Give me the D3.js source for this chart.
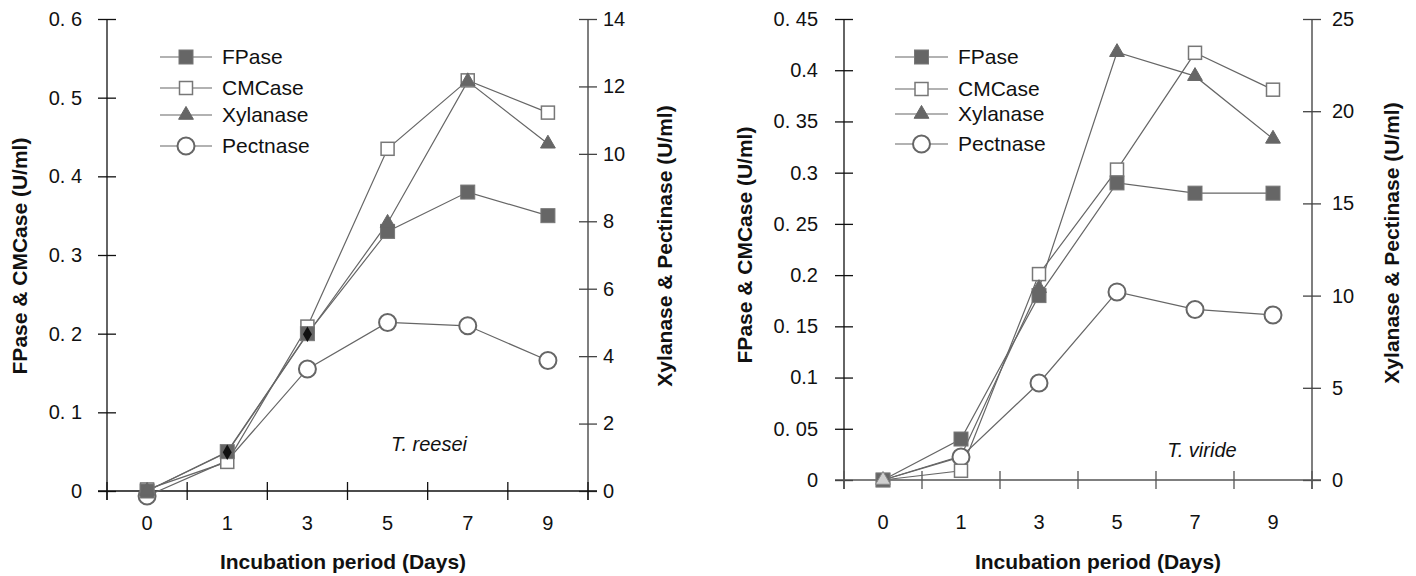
<!DOCTYPE html>
<html>
<head>
<meta charset="utf-8">
<script src="https://cdn.jsdelivr.net/npm/d3@7"></script>
<style>
  html, body { margin: 0; padding: 0; background: #fff; }
  svg { display: block; font-family: "Liberation Sans", Arial, Helvetica, sans-serif; }
</style>
</head>
<body>
<svg id="chart" width="1416" height="576"></svg>
<script>
// Incubation days (categories on the x axis)
const days = ["0", "1", "3", "5", "7", "9"];
const seriesNames = ["FPase", "CMCase", "Xylanase", "Pectnase"];

// T. reesei — FPase & CMCase on the left axis, Xylanase & Pectinase on the right axis (U/ml)
const reeseiFPase     = [0, 0.05, 0.20, 0.33, 0.38, 0.35];
const reeseiCMCase    = [0.002, 0.037, 0.209, 0.435, 0.522, 0.481];
const reeseiXylanase  = [0, 1.15, 4.65, 7.95, 12.15, 10.3];
const reeseiPectinase = [-0.15, 0.9, 3.62, 5.0, 4.9, 3.87];

// T. viride
const virideFPase     = [0, 0.040, 0.18, 0.29, 0.28, 0.28];
const virideCMCase    = [0, 0.009, 0.201, 0.303, 0.417, 0.381];
const virideXylanase  = [0, 1.3, 10.4, 23.2, 21.9, 18.5];
const viridePectinase = [0, 1.25, 5.26, 10.2, 9.25, 8.95];

// Axis tick values and their printed labels
const reeseiLeftTicks   = [0, 0.1, 0.2, 0.3, 0.4, 0.5, 0.6];
const reeseiLeftLabels  = ["0", "0. 1", "0. 2", "0. 3", "0. 4", "0. 5", "0. 6"];
const reeseiRightTicks  = [0, 2, 4, 6, 8, 10, 12, 14];
const virideLeftTicks   = [0, 0.05, 0.1, 0.15, 0.2, 0.25, 0.3, 0.35, 0.4, 0.45];
const virideLeftLabels  = ["0", "0. 05", "0.1", "0. 15", "0.2", "0. 25", "0.3", "0. 35", "0.4", "0. 45"];
const virideRightTicks  = [0, 5, 10, 15, 20, 25];

const svg = d3.select("#chart");
svg.append("rect").attr("width", 1416).attr("height", 576).attr("fill", "#fff");

const LINE = "#666";
const MARK = "#666";

function drawMarker(g, type, x, y) {
  if (!type) return;
  if (type === "sqFill") {
    g.append("rect").attr("x", x - 7).attr("y", y - 7).attr("width", 14).attr("height", 14)
      .attr("fill", MARK).attr("stroke", "#777").attr("stroke-width", 1);
  } else if (type === "sqOpen") {
    g.append("rect").attr("x", x - 6.5).attr("y", y - 6.5).attr("width", 13).attr("height", 13)
      .attr("fill", "#fff").attr("stroke", "#777").attr("stroke-width", 1.5);
  } else if (type === "tri" || type === "triLight") {
    g.append("path").attr("d", d3.symbol(d3.symbolTriangle, 95)())
      .attr("transform", `translate(${x},${y})`)
      .attr("fill", type === "tri" ? MARK : "#d0d0d0")
      .attr("stroke", type === "tri" ? MARK : "#888").attr("stroke-width", 1);
  } else if (type === "circle") {
    g.append("circle").attr("cx", x).attr("cy", y).attr("r", 8.5)
      .attr("fill", "#fff").attr("stroke", "#666").attr("stroke-width", 2);
  } else if (type === "diamond") {
    g.append("path").attr("d", d3.symbol(d3.symbolDiamond, 70)())
      .attr("transform", `translate(${x},${y})`)
      .attr("fill", "#111");
  }
}

function drawPanel(cfg) {
  const g = svg.append("g");
  const x = d3.scaleBand().domain(days).range([cfg.left, cfg.right]).padding(0);
  const yL = d3.scaleLinear().domain([0, cfg.leftMax]).range([cfg.bottom, cfg.top]);
  const yR = d3.scaleLinear().domain([0, cfg.rightMax]).range([cfg.bottom, cfg.top]);
  const cx = d => x(d) + x.bandwidth() / 2;

  // left axis
  const axL = g.append("g").attr("transform", `translate(${cfg.left},0)`)
    .call(d3.axisLeft(yL).tickValues(cfg.leftTicks)
      .tickFormat((d, i) => cfg.leftLabels[i]).tickSizeOuter(0).tickPadding(0));
  axL.select(".domain").attr("d", `M0,${cfg.top}V${cfg.bottom + 9}`).attr("stroke", "#111").attr("stroke-width", 1.3);
  axL.selectAll(".tick line").attr("x1", -9).attr("x2", 9).attr("stroke", "#111").attr("stroke-width", 1.3);
  axL.selectAll(".tick text").attr("x", cfg.leftLabelX - cfg.left).attr("font-size", 20)
    .attr("fill", "#111").attr("font-family", null);

  // right axis
  const axR = g.append("g").attr("transform", `translate(${cfg.right},0)`)
    .call(d3.axisRight(yR).tickValues(cfg.rightTicks).tickSizeOuter(0).tickPadding(0));
  axR.select(".domain").attr("d", `M0,${cfg.top}V${cfg.bottom + 9}`).attr("stroke", "#555").attr("stroke-width", 1.5);
  axR.selectAll(".tick line").attr("x1", -9).attr("x2", 9).attr("stroke", "#444").attr("stroke-width", 1.3);
  axR.selectAll(".tick text").attr("x", cfg.rightLabelX - cfg.right).attr("font-size", 20)
    .attr("fill", "#111").attr("font-family", null);

  // bottom axis: labels centred on each day, tick marks on the category boundaries
  const axB = g.append("g").attr("transform", `translate(0,${cfg.bottom})`)
    .call(d3.axisBottom(x).tickSize(0).tickPadding(0));
  axB.select(".domain").attr("d", `M${cfg.left - 9},0H${cfg.right + 9}`)
    .attr("stroke", cfg.xAxisColor).attr("stroke-width", 1.3);
  axB.selectAll(".tick text").attr("y", cfg.xLabelY - cfg.bottom).attr("dy", "0.35em")
    .attr("font-size", 20).attr("fill", "#111").attr("font-family", null);
  const bounds = days.map(d => x(d)).concat([x(days[days.length - 1]) + x.bandwidth()]);
  axB.selectAll("line.bound").data(bounds).join("line").attr("class", "bound")
    .attr("x1", d => d).attr("x2", d => d).attr("y1", -9).attr("y2", 9)
    .attr("stroke", cfg.xAxisColor).attr("stroke-width", 1.3);

  // series lines
  const series = cfg.series;
  series.forEach(s => {
    const sc = s.axis === "L" ? yL : yR;
    const line = d3.line().x((d, i) => cx(days[i])).y(d => sc(d));
    g.append("path").datum(s.values).attr("d", line)
      .attr("fill", "none").attr("stroke", LINE).attr("stroke-width", 1.2);
  });
  // markers, in stacking order
  cfg.order.forEach(k => {
    const s = series[k];
    const sc = s.axis === "L" ? yL : yR;
    s.values.forEach((v, i) => drawMarker(g, s.marks[i], cx(days[i]), sc(v)));
  });

  // legend
  seriesNames.forEach((name, i) => {
    const ly = cfg.legendY[i];
    g.append("line").attr("x1", cfg.legendX0).attr("x2", cfg.legendX1).attr("y1", ly).attr("y2", ly)
      .attr("stroke", LINE).attr("stroke-width", 1.2);
    drawMarker(g, cfg.legendMarks[i], (cfg.legendX0 + cfg.legendX1) / 2, ly);
    g.append("text").attr("x", cfg.legendX1 + 10).attr("y", ly).attr("dy", "0.35em")
      .attr("font-size", 21).attr("fill", "#111").text(name);
  });

  // species label
  g.append("text").attr("x", cfg.speciesX).attr("y", cfg.speciesY).attr("dy", "0.35em")
    .attr("font-size", 20).attr("font-style", "italic").attr("text-anchor", "middle")
    .attr("fill", "#111").text(cfg.species);

  // axis titles
  g.append("text").attr("x", cfg.xTitleX).attr("y", 562).attr("dy", "0.35em")
    .attr("text-anchor", "middle").attr("font-size", 21).attr("font-weight", "bold")
    .attr("fill", "#111").text("Incubation period (Days)");
  g.append("text").attr("transform", `translate(${cfg.leftTitleX},${cfg.leftTitleY}) rotate(-90)`)
    .attr("dy", "0.35em").attr("text-anchor", "middle").attr("font-size", 21).attr("font-weight", "bold")
    .attr("fill", "#111").text("FPase & CMCase (U/ml)");
  g.append("text").attr("transform", `translate(${cfg.rightTitleX},${cfg.rightTitleY}) rotate(-90)`)
    .attr("dy", "0.35em").attr("text-anchor", "middle").attr("font-size", 21).attr("font-weight", "bold")
    .attr("fill", "#111").text("Xylanase & Pectinase (U/ml)");
}

drawPanel({
  left: 107, right: 588, top: 19, bottom: 491,
  leftMax: 0.6, rightMax: 14,
  leftTicks: reeseiLeftTicks, leftLabels: reeseiLeftLabels, rightTicks: reeseiRightTicks,
  leftLabelX: 82, rightLabelX: 603, xLabelY: 523, xAxisColor: "#111",
  series: [
    { values: reeseiFPase, axis: "L", marks: ["sqFill", "sqFill", "sqFill", "sqFill", "sqFill", "sqFill"] },
    { values: reeseiCMCase, axis: "L", marks: ["sqOpen", "sqOpen", "sqOpen", "sqOpen", "sqOpen", "sqOpen"] },
    { values: reeseiXylanase, axis: "R", marks: ["tri", "diamond", "diamond", "tri", "tri", "tri"] },
    { values: reeseiPectinase, axis: "R", marks: ["circle", null, "circle", "circle", "circle", "circle"] }
  ],
  order: [3, 1, 0, 2],
  legendX0: 160, legendX1: 212, legendY: [57, 88, 115, 146],
  legendMarks: ["sqFill", "sqOpen", "tri", "circle"],
  species: "T. reesei", speciesX: 429, speciesY: 444,
  xTitleX: 343, leftTitleX: 20, leftTitleY: 256, rightTitleX: 665, rightTitleY: 246
});

drawPanel({
  left: 844, right: 1312, top: 19, bottom: 480,
  leftMax: 0.45, rightMax: 25,
  leftTicks: virideLeftTicks, leftLabels: virideLeftLabels, rightTicks: virideRightTicks,
  leftLabelX: 818, rightLabelX: 1332, xLabelY: 522, xAxisColor: "#555",
  series: [
    { values: virideFPase, axis: "L", marks: ["sqFill", "sqFill", "sqFill", "sqFill", "sqFill", "sqFill"] },
    { values: virideCMCase, axis: "L", marks: ["sqOpen", "sqOpen", "sqOpen", "sqOpen", "sqOpen", "sqOpen"] },
    { values: virideXylanase, axis: "R", marks: ["triLight", null, "tri", "tri", "tri", "tri"] },
    { values: viridePectinase, axis: "R", marks: [null, "circle", "circle", "circle", "circle", "circle"] }
  ],
  order: [3, 1, 0, 2],
  legendX0: 895, legendX1: 948, legendY: [57, 89, 114, 144],
  legendMarks: ["sqFill", "sqOpen", "tri", "circle"],
  species: "T. viride", speciesX: 1202, speciesY: 450,
  xTitleX: 1098, leftTitleX: 745, leftTitleY: 245, rightTitleX: 1392, rightTitleY: 243
});
</script>
</body>
</html>
